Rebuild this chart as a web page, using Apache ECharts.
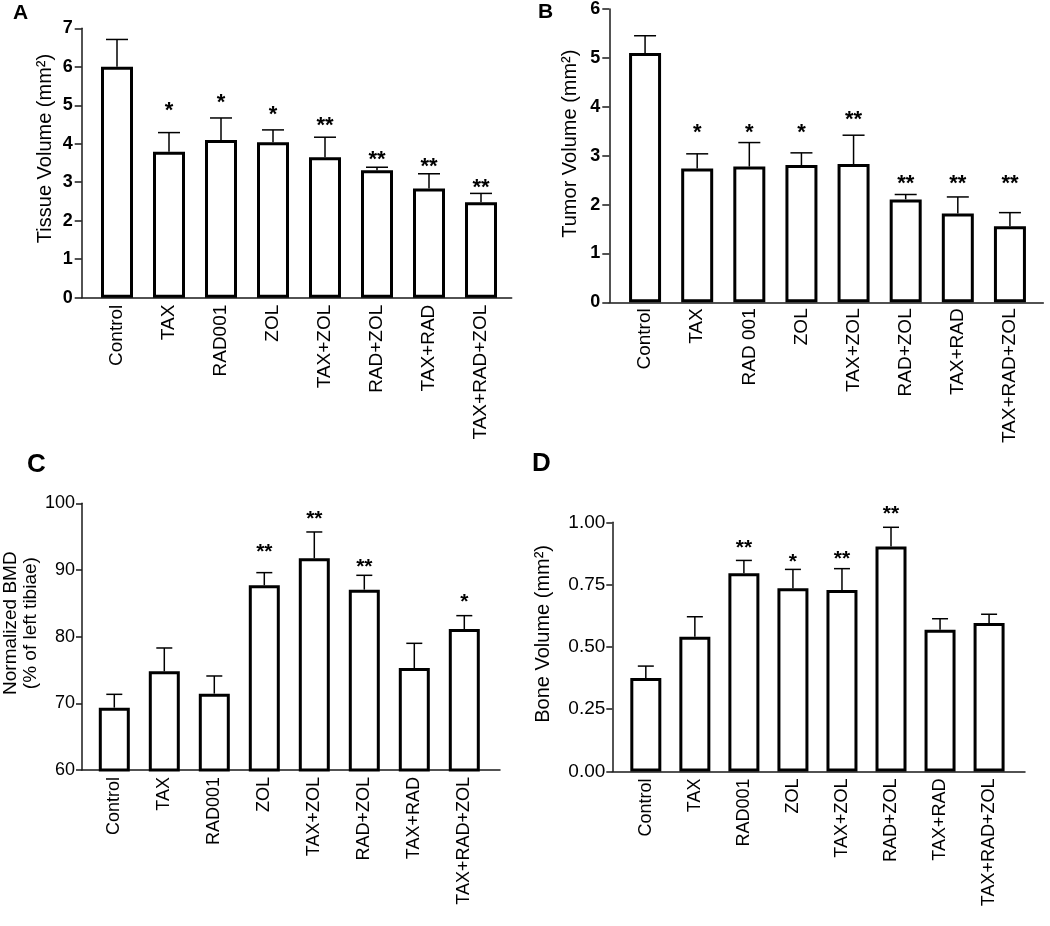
<!DOCTYPE html>
<html><head><meta charset="utf-8">
<script src="https://cdn.jsdelivr.net/npm/echarts@6/dist/echarts.min.js"></script>
<style>html,body{margin:0;padding:0;background:#fff}#c{width:1050px;height:926px}</style>
</head><body><div id="c"></div>
<script>
// ---------- data ----------
const categoriesA = ['Control','TAX','RAD001','ZOL','TAX+ZOL','RAD+ZOL','TAX+RAD','TAX+RAD+ZOL'];
const categoriesB = ['Control','TAX','RAD 001','ZOL','TAX+ZOL','RAD+ZOL','TAX+RAD','TAX+RAD+ZOL'];
const categoriesC = ['Control','TAX','RAD001','ZOL','TAX+ZOL','RAD+ZOL','TAX+RAD','TAX+RAD+ZOL'];
const categoriesD = ['Control','TAX','RAD001','ZOL','TAX+ZOL','RAD+ZOL','TAX+RAD','TAX+RAD+ZOL'];

// Panel A: Tissue Volume (mm2)
const meanA   = [6.00, 3.79, 4.10, 4.04, 3.65, 3.31, 2.84, 2.48];
const errTopA = [6.71, 4.29, 4.67, 4.36, 4.17, 3.39, 3.22, 2.71];
const starsA  = ['', '*', '*', '*', '**', '**', '**', '**'];
const starYA  = [null, 5.01, 5.22, 4.90, 4.62, 3.73, 3.55, 3.01];

// Panel B: Tumor Volume (mm2)
const meanB   = [5.09, 2.73, 2.77, 2.80, 2.82, 2.10, 1.81, 1.55];
const errTopB = [5.44, 3.03, 3.26, 3.05, 3.41, 2.20, 2.15, 1.83];
const starsB  = ['', '*', '*', '*', '**', '**', '**', '**'];
const starYB  = [null, 3.58, 3.58, 3.58, 3.84, 2.54, 2.54, 2.54];

// Panel C: Normalized BMD (% of left tibiae)
const meanC   = [69.35, 74.8, 71.45, 87.7, 91.75, 87.05, 75.3, 81.15];
const errTopC = [71.35, 78.3, 74.1, 89.6, 95.7, 89.2, 79.0, 83.15];
const starsC  = ['', '', '', '**', '**', '**', '', '*'];
const starYC  = [null, null, null, 93.5, 98.5, 91.25, null, 86.0];

// Panel D: Bone Volume (mm2)
const meanD   = [0.375, 0.541, 0.796, 0.735, 0.728, 0.903, 0.569, 0.596];
const errTopD = [0.423, 0.621, 0.847, 0.811, 0.814, 0.980, 0.613, 0.631];
const starsD  = ['', '', '**', '*', '**', '**', '', ''];
const starYD  = [null, null, 0.922, 0.862, 0.875, 1.056, null, null];

const yTicksA = {min: 0, max: 7, interval: 1};
const yTicksB = {min: 0, max: 6, interval: 1};
const yTicksC = {min: 60, max: 100, interval: 10};
const yTicksD = {min: 0, max: 1, interval: 0.25};

// ---------- build ----------
const FONT = "'Liberation Sans', Arial, Helvetica, sans-serif";
const panels = [
  {cats: categoriesA, mean: meanA, err: errTopA, stars: starsA, starY: starYA, ticks: yTicksA,
   outer: {left: 81.7, top: 28.3, width: 430, height: 269.4},
   inner: {left: 91, width: 416},
   name: 'Tissue Volume (mm\u00B2)', nameGap: 26, nameSize: 20, namePad: 29,
   tickFont: {fontSize: 18, fontWeight: 'bold'}, tickLen: 7, tickMargin: 9,
   xFont: 19, xMargin: 7, barWidth: 32, cap: 22, starSize: 22, fmt: v => String(v)},
  {cats: categoriesB, mean: meanB, err: errTopB, stars: starsB, starY: starYB, ticks: yTicksB,
   outer: {left: 609.3, top: 8.3, width: 434, height: 294},
   inner: {left: 619, width: 417},
   name: 'Tumor Volume (mm\u00B2)', nameGap: 28, nameSize: 20, namePad: 24,
   tickFont: {fontSize: 18, fontWeight: 'bold'}, tickLen: 7, tickMargin: 9,
   xFont: 19, xMargin: 6, barWidth: 32, cap: 22, starSize: 22, fmt: v => String(v)},
  {cats: categoriesC, mean: meanC, err: errTopC, stars: starsC, starY: starYC, ticks: yTicksC,
   outer: {left: 79.5, top: 503.3, width: 420.5, height: 266.7},
   inner: {left: 89.3, width: 400},
   name: 'Normalized BMD\n(% of left tibiae)', nameGap: 41, nameSize: 19, namePad: 27,
   tickFont: {fontSize: 18, fontWeight: 'normal'}, tickLen: 6, tickMargin: 7,
   xFont: 18, xMargin: 7, barWidth: 31, cap: 16, starSize: 21, fmt: v => String(v)},
  {cats: categoriesD, mean: meanD, err: errTopD, stars: starsD, starY: starYD, ticks: yTicksD,
   outer: {left: 612.3, top: 522.3, width: 412.7, height: 249.2},
   inner: {left: 621.3, width: 392.3},
   name: 'Bone Volume (mm\u00B2)', nameGap: 58, nameSize: 20, namePad: 26,
   tickFont: {fontSize: 19, fontWeight: 'normal'}, tickLen: 6, tickMargin: 7,
   xFont: 18, xMargin: 7, barWidth: 31, cap: 16, starSize: 21, fmt: v => v.toFixed(2)}
];

const grid = [], xAxis = [], yAxis = [], series = [];
panels.forEach((p, k) => {
  const go = grid.length;
  grid.push({left: p.outer.left, top: p.outer.top, width: p.outer.width, height: p.outer.height, containLabel: false});
  grid.push({left: p.inner.left, top: p.outer.top, width: p.inner.width, height: p.outer.height, containLabel: false});
  const gi = go + 1;
  // outer frame axes
  xAxis.push({gridIndex: go, type: 'value', min: 0, max: 1, axisLine: {show: true, onZero: false, lineStyle: {color: '#1a1a1a', width: 1.5}},
    axisTick: {show: false}, axisLabel: {show: false}, splitLine: {show: false}});
  yAxis.push({gridIndex: go, type: 'value', min: p.ticks.min, max: p.ticks.max, interval: p.ticks.interval,
    axisLine: {show: true, lineStyle: {color: '#1a1a1a', width: 1.5}},
    axisTick: {show: true, length: p.tickLen, lineStyle: {color: '#1a1a1a', width: 1.5}},
    axisLabel: {show: true, margin: p.tickMargin, color: '#000', fontFamily: FONT, fontSize: p.tickFont.fontSize, fontWeight: p.tickFont.fontWeight, formatter: p.fmt},
    splitLine: {show: false},
    name: p.name, nameLocation: 'middle', nameGap: p.nameGap,
    nameTextStyle: {color: '#000', fontFamily: FONT, fontSize: p.nameSize, lineHeight: p.nameSize + 1, padding: [0, 0, 0, p.namePad]}});
  // inner category axes
  xAxis.push({gridIndex: gi, type: 'category', data: p.cats, boundaryGap: true,
    axisLine: {show: false}, axisTick: {show: false}, splitLine: {show: false},
    axisLabel: {show: true, interval: 0, rotate: 90, margin: p.xMargin, color: '#000', fontFamily: FONT, fontSize: p.xFont}});
  yAxis.push({gridIndex: gi, type: 'value', show: false, min: p.ticks.min, max: p.ticks.max, interval: p.ticks.interval, splitLine: {show: false}});
  const xi = xAxis.length - 1, yi = yAxis.length - 1;

  series.push({type: 'bar', xAxisIndex: xi, yAxisIndex: yi, data: p.mean, barWidth: p.barWidth,
    itemStyle: {color: '#fff', borderColor: '#000', borderWidth: 3}, silent: true, z: 3});

  series.push({type: 'custom', xAxisIndex: xi, yAxisIndex: yi, silent: true, z: 2,
    data: p.err.map((e, i) => [i, p.mean[i], e]),
    renderItem: (params, api) => {
      const i = api.value(0);
      const base = api.coord([i, api.value(1)]);
      const top = api.coord([i, api.value(2)]);
      const st = {stroke: '#000', lineWidth: 1.5};
      return {type: 'group', children: [
        {type: 'line', shape: {x1: top[0], y1: base[1], x2: top[0], y2: top[1]}, style: st},
        {type: 'line', shape: {x1: top[0] - p.cap / 2, y1: top[1], x2: top[0] + p.cap / 2, y2: top[1]}, style: st}
      ]};
    }});

  const starData = [];
  p.starY.forEach((y, i) => { if (y !== null && p.stars[i]) starData.push([i, y]); });
  series.push({type: 'custom', xAxisIndex: xi, yAxisIndex: yi, silent: true, z: 4,
    data: starData,
    renderItem: (params, api) => {
      const i = api.value(0);
      const c = api.coord([i, api.value(1)]);
      return {type: 'text', x: c[0], y: c[1] + 6,
        style: {text: p.stars[i], fill: '#000', font: 'bold ' + p.starSize + 'px ' + FONT, textAlign: 'center', textVerticalAlign: 'middle'}};
    }});
});

const chart = echarts.init(document.getElementById('c'), null, {renderer: 'canvas'});
chart.setOption({
  animation: false,
  backgroundColor: '#fff',
  grid, xAxis, yAxis, series,
  graphic: [
    {type: 'text', left: 13, top: 3, style: {text: 'A', fill: '#000', font: 'bold 21px ' + FONT}},
    {type: 'text', left: 538, top: 2, style: {text: 'B', fill: '#000', font: 'bold 21px ' + FONT}},
    {type: 'text', left: 27, top: 452, style: {text: 'C', fill: '#000', font: 'bold 26px ' + FONT}},
    {type: 'text', left: 532, top: 451, style: {text: 'D', fill: '#000', font: 'bold 26px ' + FONT}}
  ]
});
</script></body></html>
